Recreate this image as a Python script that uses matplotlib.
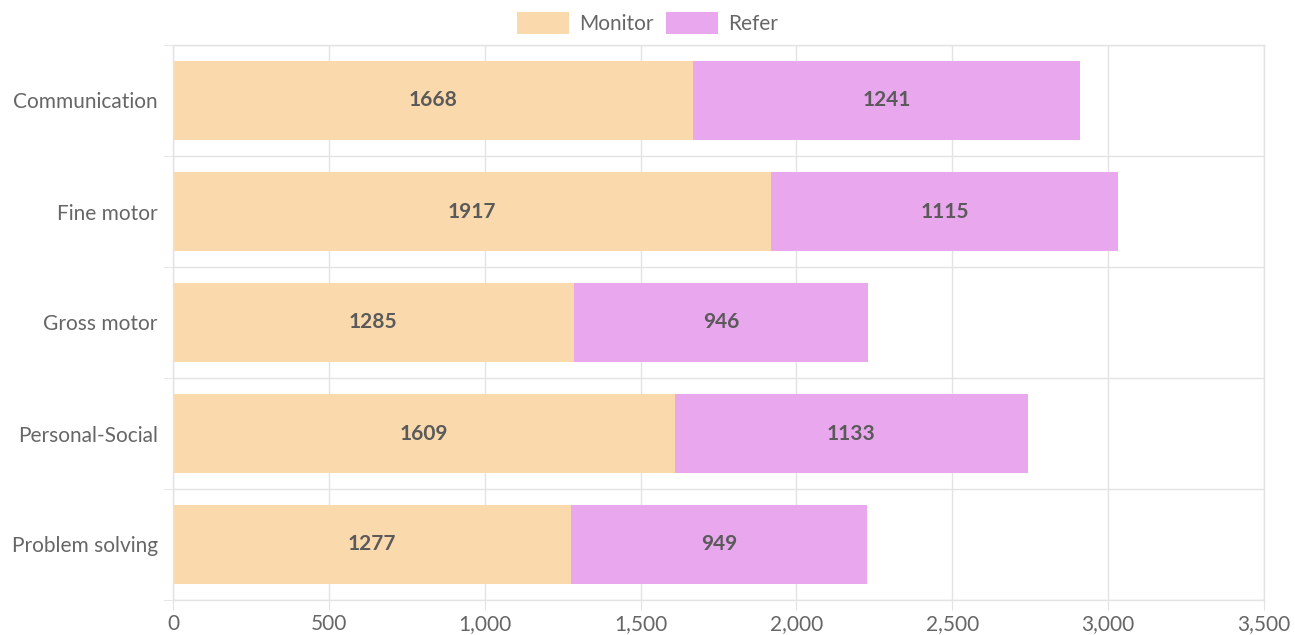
import matplotlib.pyplot as plt
import numpy as np

categories = ["Communication", "Fine motor", "Gross motor", "Personal-Social", "Problem solving"]
monitor = [1668, 1917, 1285, 1609, 1277]
refer = [1241, 1115, 946, 1133, 949]
x_ticks = [0, 500, 1000, 1500, 2000, 2500, 3000, 3500]

plt.rcParams["font.family"] = ["Lato", "DejaVu Sans"]

MONITOR_COLOR = "#fad9ad"
REFER_COLOR = "#e9a7ee"
GRID_COLOR = "#e3e3e3"
TEXT_COLOR = "#666666"

fig = plt.figure(figsize=(12.95, 6.35), dpi=100)
ax = fig.add_axes([173 / 1295, 1 - 600 / 635, (1264 - 173) / 1295, 555 / 635])

y = np.arange(len(categories))
bars_m = ax.barh(y, monitor, height=0.72, color=MONITOR_COLOR, label="Monitor", zorder=2)
bars_r = ax.barh(y, refer, left=monitor, height=0.72, color=REFER_COLOR, label="Refer", zorder=2)

# value labels in the middle of each segment
for bars in (bars_m, bars_r):
    for b in bars:
        w = b.get_width()
        ax.text(b.get_x() + w / 2, b.get_y() + b.get_height() / 2, f"{int(w)}",
                ha="center", va="center", fontsize=15, fontweight="bold", color="#5a5a5a", zorder=3)

ax.set_xlim(0, 3500)
ax.set_ylim(len(categories) - 0.5, -0.5)

ax.set_xticks(x_ticks)
ax.set_xticklabels([f"{v:,}" for v in x_ticks])
ax.set_yticks(y)
ax.set_yticklabels(categories)
ax.set_yticks(np.arange(-0.5, len(categories)), minor=True)

ax.tick_params(axis="x", length=7, color=GRID_COLOR, labelsize=15, labelcolor=TEXT_COLOR, pad=3)
ax.tick_params(axis="y", which="major", length=0, labelsize=15, labelcolor=TEXT_COLOR, pad=11)
ax.tick_params(axis="y", which="minor", length=7, color=GRID_COLOR)

ax.grid(axis="x", color=GRID_COLOR, linewidth=1, zorder=0)
ax.grid(axis="y", which="minor", color=GRID_COLOR, linewidth=1, zorder=0)
ax.set_axisbelow(True)

for s in ax.spines.values():
    s.set_color(GRID_COLOR)
    s.set_linewidth(1)

fig.legend(handles=[bars_m, bars_r], labels=["Monitor", "Refer"], loc="upper center",
           bbox_to_anchor=(0.5, 1.01), ncol=2, frameon=False, fontsize=15,
           labelcolor=TEXT_COLOR, handlelength=2.5, handleheight=1.2, columnspacing=0.6,
           handletextpad=0.5)

fig.savefig("out.png", dpi=100)
